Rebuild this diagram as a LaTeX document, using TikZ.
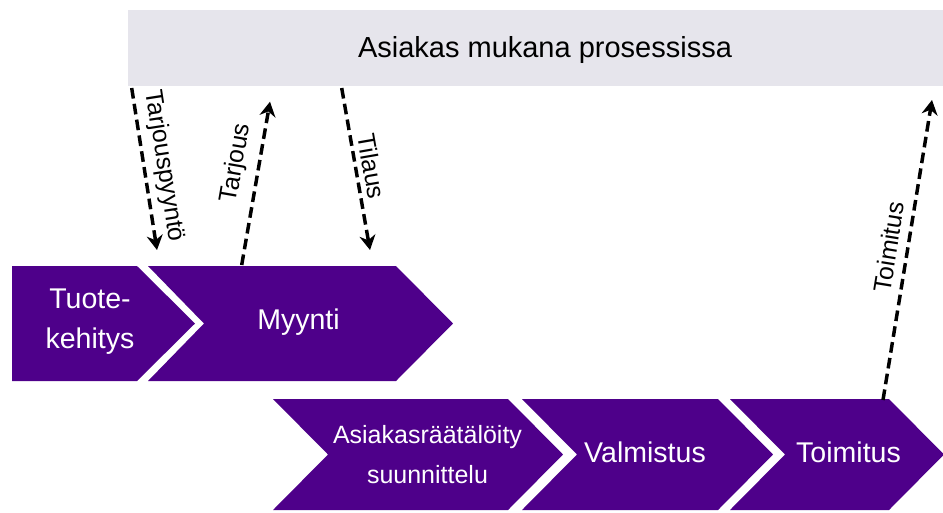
\documentclass[tikz,border=0pt]{standalone}
\usepackage{fontspec}
\setmainfont{Liberation Sans}
\usetikzlibrary{arrows.meta}
\definecolor{stagepurple}{RGB}{78,0,138}
\definecolor{barfill}{RGB}{230,229,236}

\begin{document}
\begin{tikzpicture}[x=0.75pt,y=-0.75pt,
  stage/.style={fill=stagepurple},
  bartext/.style={font=\fontsize{21.75}{26}\selectfont, inner sep=0pt, anchor=base},
  stagetext/.style={text=white, font=\fontsize{21.4}{30}\selectfont, align=center, inner sep=0pt},
  smalltext/.style={text=white, font=\fontsize{18.75}{30}\selectfont, align=center, inner sep=0pt},
  flow/.style={line width=2.6pt, dash pattern=on 8pt off 4pt, -{Stealth[length=11pt,width=12pt]}},
  flowlabel/.style={font=\fontsize{18.6}{22}\selectfont, sloped, inner sep=2pt}
]
\useasboundingbox (0,0) rectangle (943,512);

% customer band
\fill[barfill] (128,10) rectangle (943,86);
\node[bartext] (bar) at (545,57) {Asiakas mukana prosessissa};

% upper row of stages
\path[stage] (12,266) -- (137,266) -- (195,323.5) -- (137,381) -- (12,381) -- cycle;
\path[stage] (148,266) -- (396,266) -- (453,323.5) -- (396,381) -- (148,381) -- (204,323.5) -- cycle;
\node[stagetext] (tk) at (90,322) {Tuote-\\kehitys};
\node[stagetext, anchor=base] (myynti) at (298.5,329) {Myynti};

% lower row of stages
\path[stage] (273,399) -- (508,399) -- (563,454.5) -- (508,510) -- (273,510) -- (328,454.5) -- cycle;
\path[stage] (522,399) -- (718,399) -- (773,454.5) -- (718,510) -- (522,510) -- (577,454.5) -- cycle;
\path[stage] (730,399) -- (889,399) -- (944,454.5) -- (889,510) -- (730,510) -- (785,454.5) -- cycle;
\node[smalltext] (suunn) at (427.5,455) {Asiakasräätälöity\\suunnittelu};
\node[stagetext, anchor=base] (valm) at (645,462) {Valmistus};
\node[stagetext, anchor=base] (toim) at (848.5,462) {Toimitus};

% message end points
\coordinate (rfq-a) at (131.7,88);
\coordinate (rfq-b) at (157,250);
\coordinate (offer-a) at (241.7,265);
\coordinate (offer-b) at (270,101.7);
\coordinate (order-a) at (341.7,88);
\coordinate (order-b) at (370,250);
\coordinate (deliv-a) at (883,400);
\coordinate (deliv-b) at (932,100);

% messages between customer and stages
\draw[flow] (rfq-a) -- node[flowlabel, above=3pt, pos=0.5] (rfq-l) {Tarjouspyyntö} (rfq-b);
\draw[flow] (offer-a) -- node[flowlabel, above=5pt, pos=0.6] (offer-l) {Tarjous} (offer-b);
\draw[flow] (order-a) -- node[flowlabel, above=2pt, pos=0.5] (order-l) {Tilaus} (order-b);
\draw[flow] (deliv-a) -- node[flowlabel, above=4pt, pos=0.5] (deliv-l) {Toimitus} (deliv-b);
\end{tikzpicture}
\end{document}
